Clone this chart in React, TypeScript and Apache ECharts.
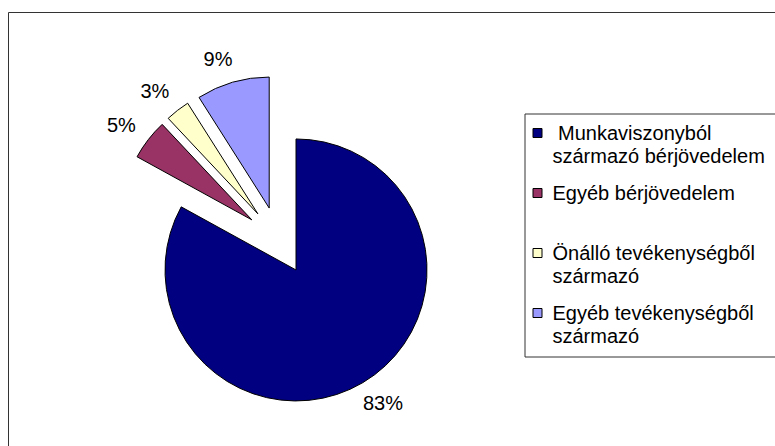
import React, { useEffect, useRef } from 'react';
import * as echarts from 'echarts';

const categories = [
  'Munkaviszonyból származó bérjövedelem',
  'Egyéb bérjövedelem',
  'Önálló tevékenységből származó',
  'Egyéb tevékenységből származó',
];
const legendLabels = [
  ' Munkaviszonyból\nszármazó bérjövedelem',
  'Egyéb bérjövedelem\n ',
  'Önálló tevékenységből\nszármazó',
  'Egyéb tevékenységből\nszármazó',
];
const values = [83, 5, 3, 9];
const colors = ['#000080', '#993366', '#FFFFCC', '#9999FF'];

const FONT = '"Liberation Sans", Arial, sans-serif';

export default function App() {
  const ref = useRef<HTMLDivElement>(null);
  useEffect(() => {
    document.body.style.margin = '0';
    document.body.style.overflow = 'hidden';
    const chart = echarts.init(ref.current!, undefined, { renderer: 'svg' });
    const iconPath = 'path://M0,0M1.5,7L10.5,7L10.5,16L1.5,16ZM16,46';
    chart.setOption({
      animation: false,
      backgroundColor: '#ffffff',
      graphic: [
        {
          type: 'rect',
          shape: { x: 8.5, y: 12.5, width: 800, height: 500 },
          style: { fill: 'none', stroke: '#333', lineWidth: 1 },
          silent: true,
        },
      ],
      legend: {
        orient: 'vertical',
        left: 525,
        top: 114,
        padding: [7, 30, 9, 6],
        itemGap: 13,
        itemWidth: 16,
        itemHeight: 46,
        borderColor: '#333',
        borderWidth: 1,
        selectedMode: false,
        data: categories.map((n) => ({ name: n, icon: iconPath })),
        itemStyle: { borderColor: '#000', borderWidth: 1 },
        formatter: (name: string) => legendLabels[categories.indexOf(name)],
        textStyle: { fontSize: 20, lineHeight: 23, fontFamily: FONT, color: '#000' },
      },
      series: [
        {
          type: 'pie',
          center: [278.7, 240.7],
          radius: 131,
          startAngle: 90,
          clockwise: true,
          selectedMode: 'multiple',
          selectedOffset: 34,
          avoidLabelOverlap: false,
          percentPrecision: 0,
          itemStyle: { borderColor: '#000', borderWidth: 1 },
          label: {
            show: true,
            position: 'outside',
            formatter: '{d}%',
            fontSize: 20,
            fontFamily: FONT,
            color: '#000',
          },
          labelLine: { show: false, length: 24, length2: 3 },
          labelLayout: { align: 'center' },
          emphasis: { disabled: true },
          data: categories.map((n, i) => ({
            name: n,
            value: values[i],
            selected: true,
            itemStyle: { color: colors[i] },
          })),
        },
      ],
    });
    return () => chart.dispose();
  }, []);
  return <div ref={ref} style={{ width: 775, height: 446 }} />;
}
